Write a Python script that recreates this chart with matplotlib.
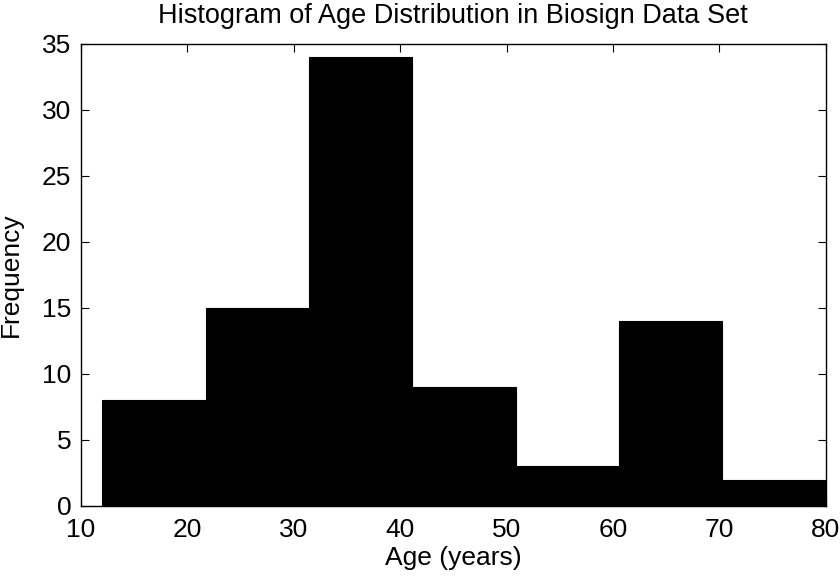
import numpy as np
import matplotlib.pyplot as plt

plt.rcParams['font.family'] = ['Liberation Sans', 'DejaVu Sans']

# histogram counts per bin (MATLAB style hist, 7 bins between min and max age)
counts = [8, 15, 34, 9, 3, 14, 2]
age_min, age_max = 12, 80
edges = np.linspace(age_min, age_max, len(counts) + 1)

fig = plt.figure(figsize=(8.4, 5.78), dpi=100)
ax = fig.add_axes([0.0964, 0.1246, 0.8866, 0.7993])

ax.hist(edges[:-1], bins=edges, weights=counts, color='black', edgecolor='black', linewidth=0.8)

ax.set_xlim(10, 80)
ax.set_ylim(0, 35)
ax.set_xticks(range(10, 81, 10))
ax.set_yticks(range(0, 36, 5))
ax.tick_params(direction='in', top=True, right=True, labelsize=19, length=6)
ax.tick_params(axis='x', pad=8.5)
ax.tick_params(axis='y', pad=7)
for s in ax.spines.values():
    s.set_linewidth(1.0)

ax.set_title('Histogram of Age Distribution in Biosign Data Set', fontsize=19.5, pad=15)
ax.set_xlabel('Age (years)', fontsize=19, labelpad=3)
ax.set_ylabel('Frequency', fontsize=19, labelpad=14)

fig.savefig('out.png', dpi=100)
